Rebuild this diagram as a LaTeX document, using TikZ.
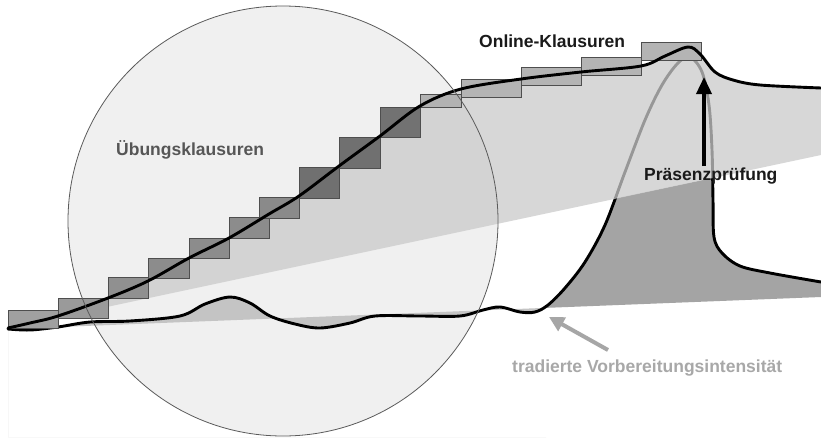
\documentclass[tikz,border=0pt]{standalone}
\usepackage{fontspec}
\setmainfont{Liberation Sans}
\usetikzlibrary{arrows.meta}
\definecolor{circfill}{HTML}{F0F0F0}
\definecolor{circline}{HTML}{5A5A5A}
\definecolor{wedgefill}{HTML}{CACACA}
\definecolor{darkfill}{HTML}{A4A4A4}
\definecolor{thinfill}{HTML}{C4C4C4}
\definecolor{rectline}{HTML}{4E4E4E}
\definecolor{lbl}{HTML}{1A1A1A}
\definecolor{lblgray}{HTML}{565656}
\definecolor{lbllight}{HTML}{A8A8A8}
\definecolor{arrgray}{HTML}{A6A6A6}
\begin{document}
\begin{tikzpicture}[x=1pt,y=-1pt,
  stepbox/.style={draw=rectline,line width=0.9pt},
  curveline/.style={line width=2.9pt,line cap=round,line join=round},
  label/.style={font=\bfseries\fontsize{17.5}{19}\selectfont,inner sep=0pt,anchor=base west}]
\useasboundingbox (0,0) rectangle (821,437);
\fill[white] (0,0) rectangle (821,437);
% circle fill
\fill[circfill] (283,221) circle[radius=215pt];
% thin fill between traditional curve and baseline
\begin{scope}
\clip (0,0) rectangle (546,437);
\fill[thinfill,even odd rule]
  plot[smooth,tension=0.55] coordinates {(8,329) (30,330) (58,327) (90,322) (130,321) (180,316) (205,304) (230,297) (250,303) (270,316) (295,324) (320,328) (350,323) (375,316) (420,316) (460,316) (483,310) (500,307) (520,312) (535,312) (548,305) (565,288) (585,262) (605,225) (625,172) (645,120) (662,85) (678,63) (690,57) (702,72) (709,105) (712,150) (713,200) (714,237) (722,253) (740,266) (770,273) (821,282)}
  -- (821,437) -- (8,437) -- cycle
  (8,329) -- (821,297) -- (821,437) -- (8,437) -- cycle;
\end{scope}
% dark region
\begin{scope}
\clip plot[smooth,tension=0.55] coordinates {(8,329) (30,330) (58,327) (90,322) (130,321) (180,316) (205,304) (230,297) (250,303) (270,316) (295,324) (320,328) (350,323) (375,316) (420,316) (460,316) (483,310) (500,307) (520,312) (535,312) (548,305) (565,288) (585,262) (605,225) (625,172) (645,120) (662,85) (678,63) (690,57) (702,72) (709,105) (712,150) (713,200) (714,237) (722,253) (740,266) (770,273) (821,282)}
  -- (821,437) -- (8,437) -- cycle;
\fill[darkfill] (540,308.1) -- (540,214.4) -- (821,155) -- (821,297) -- cycle;
\end{scope}
% traditional curve
\draw[curveline,black] plot[smooth,tension=0.55] coordinates {(8,329) (30,330) (58,327) (90,322) (130,321) (180,316) (205,304) (230,297) (250,303) (270,316) (295,324) (320,328) (350,323) (375,316) (420,316) (460,316) (483,310) (500,307) (520,312) (535,312) (548,305) (565,288) (585,262) (605,225) (625,172) (645,120) (662,85) (678,63) (690,57) (702,72) (709,105) (712,150) (713,200) (714,237) (722,253) (740,266) (770,273) (821,282)};
% light wedge (semi-transparent)
\fill[wedgefill,fill opacity=0.75]
  plot[smooth,tension=0.55] coordinates {(8,328) (30,323) (58,316) (108,298) (148,281) (189,258) (229,238) (269,214) (299,196) (339,166) (380,136) (420,106) (461,89) (521,79) (581,72) (641,66) (665,56) (688,47) (700,54) (715,72) (733,80) (760,85) (821,88)}
  -- (821,155) -- cycle;
% staircase
\filldraw[stepbox,fill={rgb,255:red,160;green,160;blue,160}] (8,310) rectangle (58,328);
\filldraw[stepbox,fill={rgb,255:red,154;green,154;blue,154}] (58,298) rectangle (108,318);
\filldraw[stepbox,fill={rgb,255:red,144;green,144;blue,144}] (108,277) rectangle (148,298);
\filldraw[stepbox,fill={rgb,255:red,140;green,140;blue,140}] (148,258) rectangle (189,278);
\filldraw[stepbox,fill={rgb,255:red,140;green,140;blue,140}] (189,238) rectangle (229,258);
\filldraw[stepbox,fill={rgb,255:red,140;green,140;blue,140}] (229,217) rectangle (269,238);
\filldraw[stepbox,fill={rgb,255:red,138;green,138;blue,138}] (259,197) rectangle (299,218);
\filldraw[stepbox,fill={rgb,255:red,112;green,112;blue,112}] (299,167) rectangle (339,198);
\filldraw[stepbox,fill={rgb,255:red,112;green,112;blue,112}] (339,137) rectangle (380,168);
\filldraw[stepbox,fill={rgb,255:red,114;green,114;blue,114}] (380,107) rectangle (420,137);
\filldraw[stepbox,fill={rgb,255:red,178;green,178;blue,178}] (420,94) rectangle (461,107);
\filldraw[stepbox,fill={rgb,255:red,180;green,180;blue,180}] (461,79) rectangle (521,97);
\filldraw[stepbox,fill={rgb,255:red,180;green,180;blue,180}] (521,67) rectangle (581,85);
\filldraw[stepbox,fill={rgb,255:red,180;green,180;blue,180}] (581,57) rectangle (641,75);
\filldraw[stepbox,fill={rgb,255:red,180;green,180;blue,180}] (641,42) rectangle (701,60);
% online curve
\draw[curveline,black] plot[smooth,tension=0.55] coordinates {(8,328) (30,323) (58,316) (108,298) (148,281) (189,258) (229,238) (269,214) (299,196) (339,166) (380,136) (420,106) (461,89) (521,79) (581,72) (641,66) (665,56) (688,47) (700,54) (715,72) (733,80) (760,85) (821,88)};
% circle outline
\draw[circline,line width=0.8pt] (283,221) circle[radius=215pt];
% arrows
\coordinate (pfrom) at (704,166);
\coordinate (pto) at (704,77);
\draw[black,line width=3.6pt,-{Triangle[length=17pt,width=15pt]}] (pfrom) -- (pto);
\coordinate (tfrom) at (608,350);
\coordinate (tto) at (549,317);
\draw[arrgray,line width=4pt,-{Triangle[length=15pt,width=15pt]}] (tfrom) -- (tto);
% labels
\node[label,text=lbl] (online) at (479,47) {Online-Klausuren};
\node[label,text=lbl] (praes) at (644,180) {Präsenzprüfung};
\node[label,text=lblgray] (uebung) at (116,155) {Übungsklausuren};
\node[label,text=lbllight] (trad) at (512,372) {tradierte Vorbereitungsintensität};
\end{tikzpicture}
\end{document}
